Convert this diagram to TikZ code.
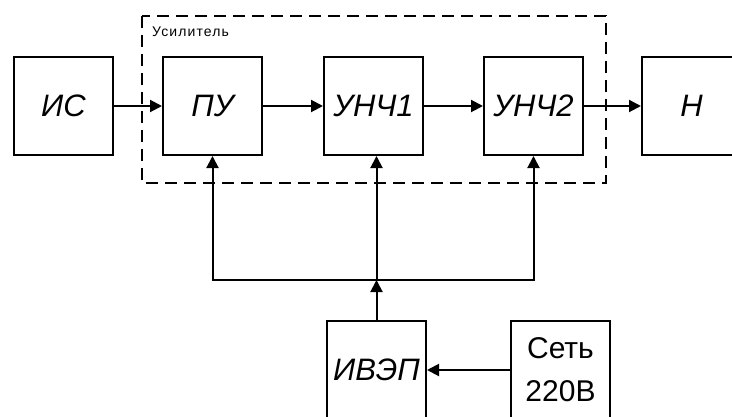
\documentclass[tikz,border=0pt]{standalone}
\usepackage{fontspec}
\setmainfont{Liberation Sans}
\usetikzlibrary{arrows.meta,positioning}

\begin{document}
\begin{tikzpicture}[x=1pt,y=-1pt,
  blk/.style={draw,line width=2pt,minimum width=99pt,minimum height=98pt,
              inner sep=0pt,align=center,font=\fontsize{31}{43}\selectfont\itshape},
  netblk/.style={blk,font=\fontsize{30}{43}\selectfont},
  arr/.style={-{Triangle[length=12pt,width=12pt]},line width=2pt},
  frame/.style={line width=2pt,dash pattern=on 12pt off 7pt},
  lab/.style={font=\fontsize{14}{16}\selectfont\addfontfeatures{LetterSpace=8},anchor=west,inner sep=0pt},
  node distance=48pt and 48pt
]
\clip (0,0) rectangle (732,416);
\useasboundingbox (0,0) rectangle (732,416);

% signal path
\node[blk] (is) at (63.5,106) {ИС};
\node[blk,right=48pt of is]    (pu)    {ПУ};
\node[blk,right=60pt of pu]    (unch1) {УНЧ1};
\node[blk,right=59pt of unch1] (unch2) {УНЧ2};
\node[blk,right=57pt of unch2] (load)  {Н};

\draw[arr] (is) -- (pu);
\draw[arr] (pu) -- (unch1);
\draw[arr] (unch1) -- (unch2);
\draw[arr] (unch2) -- (load);

% amplifier frame
\draw[frame] (142,16) rectangle (606,183);
\node[lab] (amp) at (152,32) {Усилитель};

% power supply
\node[blk,below=164pt of unch1,xshift=3pt] (ivep) {ИВЭП};
\node[netblk,right=83pt of ivep] (net) {Сеть\\220В};
\coordinate[above=40pt of ivep.north] (bus);

\draw[arr] (net) -- (ivep);
\draw[arr] (ivep.north) -- (bus);
\draw[arr] (bus) -- (bus |- unch1.south);
\draw[arr] (bus) -| (pu.south);
\draw[arr] (bus) -| (unch2.south);

\end{tikzpicture}
\end{document}
